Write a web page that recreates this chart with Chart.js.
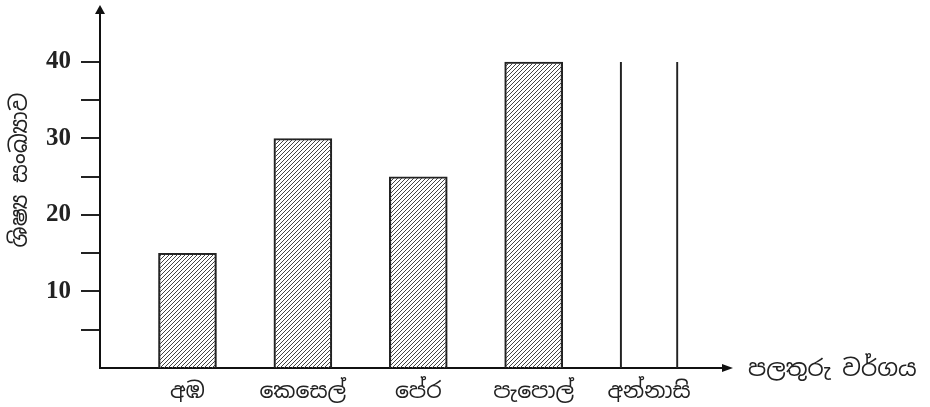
<!DOCTYPE html>
<html>
<head>
<meta charset="utf-8">
<script src="https://cdn.jsdelivr.net/npm/chart.js@4/dist/chart.umd.min.js"></script>
<style>
  html, body { margin: 0; padding: 0; background: #fff; }
  #wrap { width: 930px; height: 407px; }
</style>
</head>
<body>
<div id="wrap"><canvas id="chart"></canvas></div>
<script>
// data
const fruits = ["අඹ", "කෙසෙල්", "පේර", "පැපොල්", "අන්නාසි"];
const students = [15, 30, 25, 40, 40];
const yTicks = [5, 10, 15, 20, 25, 30, 35, 40];
const yLabelled = [10, 20, 30, 40];
const yTitle = "ශිෂ්‍ය සංඛ්‍යාව";
const xTitle = "පලතුරු වර්ගය";

const sinhala = '"Noto Sans Sinhala", "Noto Serif Sinhala", "Iskoola Pota", "Noto Sans", sans-serif';

// diagonal hatch like the printed bars
function hatch() {
    const c = document.createElement("canvas");
    c.width = 4; c.height = 4;
    const g = c.getContext("2d");
    g.strokeStyle = "#444";
    g.lineWidth = 1;
    g.beginPath();
    g.moveTo(0, 4); g.lineTo(4, 0);
    g.moveTo(-1, 1); g.lineTo(1, -1);
    g.moveTo(3, 5); g.lineTo(5, 3);
    g.stroke();
    return g.createPattern(c, "repeat");
}
const pat = hatch();

// last bar is unfinished: only its two sides are drawn
const fills = students.map((v, i) => i === fruits.length - 1 ? "rgba(0,0,0,0)" : pat);
const borders = students.map((v, i) => i === fruits.length - 1
    ? { top: 0, bottom: 0, left: 1.5, right: 1.5 }
    : { top: 1.5, bottom: 0, left: 1.5, right: 1.5 });

// arrows and axis titles
const axisExtras = {
    id: "axisExtras",
    afterDraw(chart) {
        const { ctx, chartArea } = chart;
        const L = chartArea.left, B = chartArea.bottom;
        ctx.save();
        ctx.fillStyle = "#111";
        ctx.beginPath();
        ctx.moveTo(L, chartArea.top - 8);
        ctx.lineTo(L - 5, chartArea.top + 1);
        ctx.lineTo(L + 5, chartArea.top + 1);
        ctx.closePath();
        ctx.fill();
        ctx.beginPath();
        ctx.moveTo(chartArea.right + 8, B);
        ctx.lineTo(chartArea.right - 3, B - 4);
        ctx.lineTo(chartArea.right - 3, B + 4);
        ctx.closePath();
        ctx.fill();

        ctx.fillStyle = "#222";
        ctx.font = "23px " + sinhala;
        ctx.textBaseline = "middle";
        ctx.textAlign = "left";
        ctx.fillText(xTitle, chartArea.right + 23, B + 2);

        ctx.translate(21, 170);
        ctx.rotate(-Math.PI / 2);
        ctx.textAlign = "center";
        ctx.fillText(yTitle, 0, 0);
        ctx.restore();
    }
};

new Chart(document.getElementById("chart"), {
    type: "bar",
    data: {
        datasets: [{
            data: students.map((v, i) => ({ x: i + 1, y: v })),
            backgroundColor: fills,
            borderColor: "#222",
            borderWidth: borders,
            barThickness: 58
        }]
    },
    plugins: [axisExtras],
    options: {
        responsive: true,
        maintainAspectRatio: false,
        animation: false,
        layout: { padding: { top: 13, right: 205, bottom: 0, left: 0 } },
        plugins: {
            legend: { display: false },
            tooltip: { enabled: false }
        },
        scales: {
            x: {
                type: "linear",
                offset: false,
                min: 0.242,
                max: 5.658,
                afterBuildTicks: s => { s.ticks = fruits.map((f, i) => ({ value: i + 1 })); },
                afterFit: s => { s.height = 39; s.paddingLeft = 0; s.paddingRight = 0; },
                grid: { display: false },
                border: { display: true, color: "#111", width: 2 },
                ticks: {
                    callback: v => fruits[v - 1],
                    color: "#222",
                    font: { family: sinhala, size: 22 },
                    maxRotation: 0,
                    autoSkip: false,
                    padding: 3
                }
            },
            y: {
                min: 0,
                max: 46.4,
                afterBuildTicks: s => { s.ticks = yTicks.map(v => ({ value: v })); },
                afterFit: s => { s.width = 100; s.paddingTop = 0; s.paddingBottom = 0; },
                grid: {
                    display: true,
                    drawOnChartArea: false,
                    drawTicks: true,
                    tickLength: 19,
                    color: "#222",
                    lineWidth: 2
                },
                border: { display: true, color: "#111", width: 2 },
                ticks: {
                    callback: v => yLabelled.includes(v) ? v : "",
                    color: "#222",
                    font: { family: '"Liberation Serif", "Times New Roman", serif', size: 25, weight: "bold" },
                    padding: 10
                }
            }
        }
    }
});
</script>
</body>
</html>
